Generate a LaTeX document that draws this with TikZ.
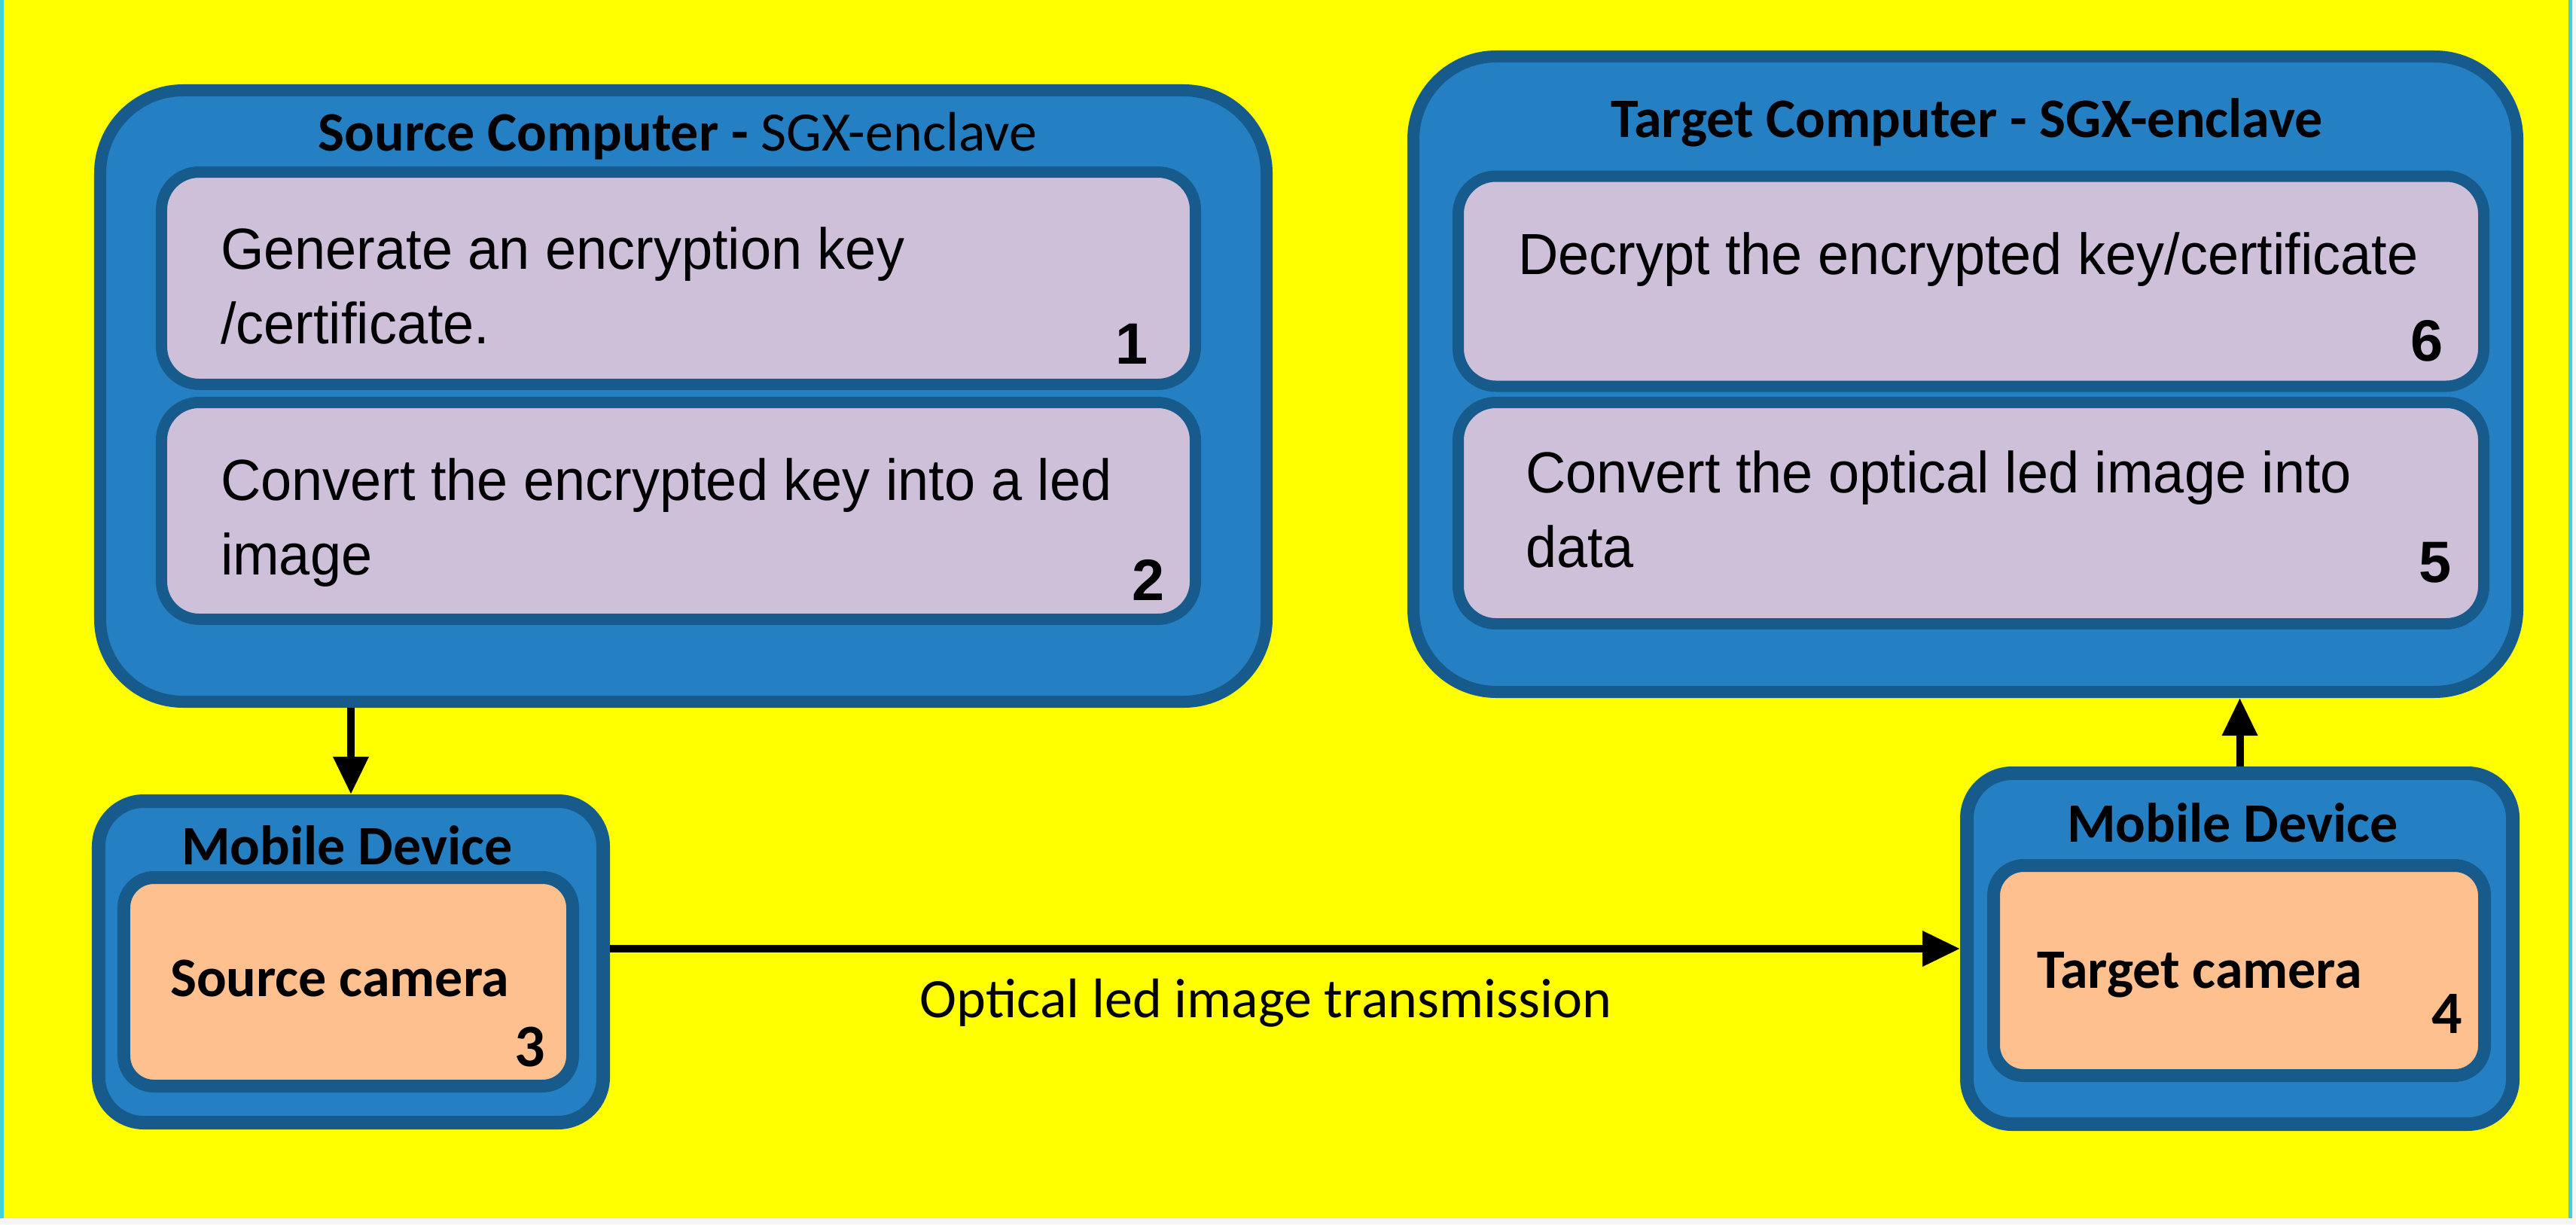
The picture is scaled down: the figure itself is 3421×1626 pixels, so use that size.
\documentclass[tikz,border=0pt]{standalone}
\usepackage{fontspec}
\setmainfont{Liberation Sans}
\newfontfamily\calfont{Carlito}
\newfontfamily\bodyfont[FakeStretch=0.96]{Liberation Sans}
\usetikzlibrary{arrows.meta}
\definecolor{bgyellow}{HTML}{FFFF00}
\definecolor{boxblue}{HTML}{2580C3}
\definecolor{edgeblue}{HTML}{165B8C}
\definecolor{lav}{HTML}{CFC0DA}
\definecolor{peach}{HTML}{FFC08F}
\definecolor{framecyan}{HTML}{40D0E0}
\begin{document}
\begin{tikzpicture}[x=0.2pt,y=-0.2pt,
  outerbox/.style={draw=edgeblue, fill=boxblue, line width=3.2pt, rounded corners=22pt, inner sep=0pt},
  mobbox/.style={draw=edgeblue, fill=boxblue, line width=3.6pt, rounded corners=12pt, inner sep=0pt},
  stepbox/.style={draw=edgeblue, fill=lav, line width=3pt, rounded corners=10pt, inner sep=0pt},
  cambox/.style={draw=edgeblue, fill=peach, line width=3.4pt, rounded corners=8pt, inner sep=0pt},
  titletext/.style={inner sep=0pt, anchor=base, font=\calfont\fontsize{14.8pt}{18pt}\selectfont\bfseries},
  bodytext/.style={inner sep=0pt, anchor=base west, font=\bodyfont\fontsize{15.4pt}{19.8pt}\selectfont},
  numtext/.style={inner sep=0pt, anchor=base east, font=\fontsize{15.5pt}{18pt}\selectfont\bfseries},
  camtext/.style={inner sep=0pt, anchor=base west, font=\calfont\fontsize{14.8pt}{18pt}\selectfont\bfseries},
  camnum/.style={inner sep=0pt, anchor=base east, font=\calfont\fontsize{16pt}{18pt}\selectfont\bfseries},
  arr/.style={draw=black, line width=2pt, -{Triangle[length=10pt,width=9pt]}}
]
\fill[bgyellow] (0,0) rectangle (3421,1626);
\useasboundingbox (0,0) rectangle (3421,1626);
% frame edges
\fill[framecyan] (0,0) rectangle (5,1618);
\fill[framecyan] (3411,0) rectangle (3416,1618);
\fill[white!92!gray] (3416,0) rectangle (3421,1626);
\fill[white!92!gray] (0,1618) rectangle (3421,1626);

% Source computer
\node[outerbox, minimum width=309.8pt, minimum height=162.4pt] (src) at (907.5,526) {};
\node[stepbox, minimum width=274.6pt, minimum height=56.4pt] (s1) at (901,369.5) {};
\node[stepbox, minimum width=274.6pt, minimum height=57.6pt] (s2) at (901,678.5) {};
\node[titletext] (srct) at (900,200) {Source Computer - \mdseries SGX-enclave};
\node[bodytext] (s1t) at (292,357) {\parbox[t]{300pt}{Generate an encryption key\\/certificate.}};
\node[numtext] (s1n) at (1526,483) {1};
\node[bodytext] (s2t) at (292,664) {\parbox[t]{300pt}{Convert the encrypted key into a led\\image}};
\node[numtext] (s2n) at (1548,797) {2};

% Target computer
\node[outerbox, minimum width=293.2pt, minimum height=168.8pt] (tgt) at (2610,497) {};
\node[stepbox, minimum width=272.4pt, minimum height=55.8pt] (t6) at (2617.5,373.5) {};
\node[stepbox, minimum width=272.4pt, minimum height=58.8pt] (t5) at (2617.5,681.5) {};
\node[titletext] (tgtt) at (2612,182) {Target Computer - SGX-enclave};
\node[bodytext] (t6t) at (2015,364) {Decrypt the encrypted key/certificate};
\node[numtext] (t6n) at (3246,479) {6};
\node[bodytext] (t5t) at (2025,654) {\parbox[t]{300pt}{Convert the optical led image into\\data}};
\node[numtext] (t5n) at (3257,773) {5};

% Mobile devices
\node[mobbox, minimum width=134pt, minimum height=85.4pt] (mobL) at (466,1277.5) {};
\node[cambox, minimum width=119.2pt, minimum height=55.4pt] (camL) at (462.5,1304) {};
\node[titletext] (mobLt) at (461,1148) {Mobile Device};
\node[camtext] (camLt) at (225,1323) {Source camera};
\node[camnum] (camLn) at (725,1416) {3};

\node[mobbox, minimum width=145pt, minimum height=93.2pt] (mobR) at (2974.5,1260) {};
\node[cambox, minimum width=130.4pt, minimum height=55.8pt] (camR) at (2973.5,1289) {};
\node[titletext] (mobRt) at (2965,1118) {Mobile Device};
\node[camtext] (camRt) at (2704,1312) {Target camera};
\node[camnum] (camRn) at (3271,1372) {4};

% connectors
\draw[arr] (mobL.north |- src.south) -- (mobL.north);
\draw[arr] (mobR.north) -- (mobR.north |- tgt.south);
\draw[arr] (mobR.west -| mobL.east) -- (mobR.west);
\node[inner sep=0pt, anchor=base, font=\calfont\fontsize{14.8pt}{18pt}\selectfont] (optl) at (1681,1351) {Optical led image transmission};
\end{tikzpicture}
\end{document}
